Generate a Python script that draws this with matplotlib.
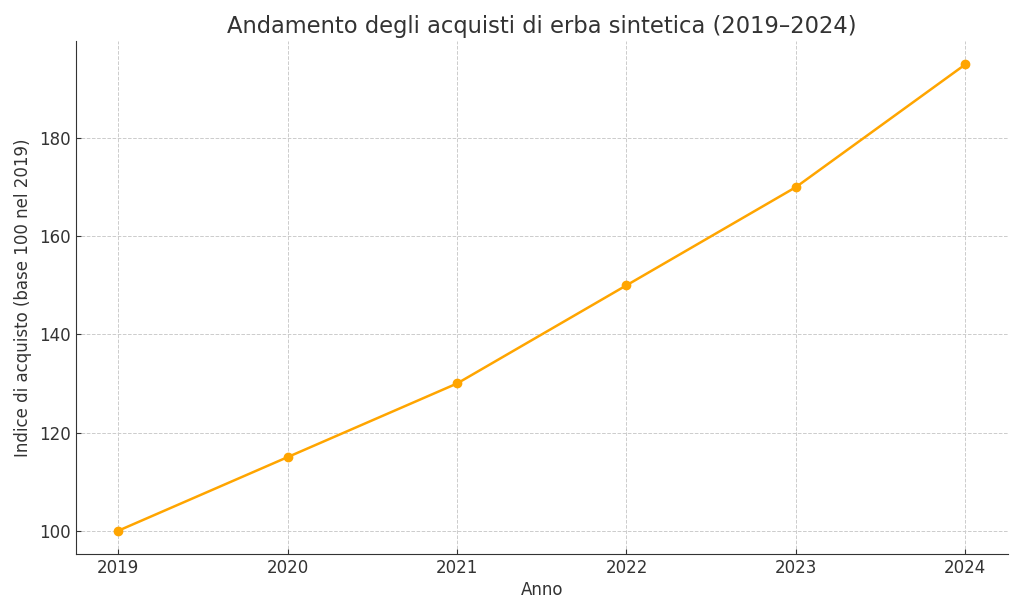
import matplotlib
matplotlib.use("Agg")
import matplotlib.pyplot as plt

years = [2019, 2020, 2021, 2022, 2023, 2024]
index_values = [100, 115, 130, 150, 170, 195]

title = "Andamento degli acquisti di erba sintetica (2019–2024)"
xlabel = "Anno"
ylabel = "Indice di acquisto (base 100 nel 2019)"

plt.rcParams['font.family'] = ['DejaVu Sans']
fig = plt.figure(figsize=(10.24, 6.14), dpi=100)
ax = fig.add_axes([0.0742, 0.0977, 0.9098, 0.8353])

ax.plot(years, index_values, color='#FFA500', linewidth=1.8, marker='o', markersize=6)

ax.set_title(title, fontsize=16.3, color='#333333', pad=6)
ax.set_xlabel(xlabel, fontsize=12, color='#333333', labelpad=3)
ax.set_ylabel(ylabel, fontsize=12, color='#333333', labelpad=5)
ax.set_xticks(years)
ax.tick_params(axis='both', direction='in', labelsize=12, labelcolor='#333333', color='#333333')
ax.grid(True, linestyle='--', color='#cccccc', linewidth=0.7)
ax.spines['top'].set_visible(False)
ax.spines['right'].set_visible(False)
ax.spines['left'].set_color('#333333')
ax.spines['bottom'].set_color('#333333')

fig.savefig("out.png", dpi=100)
